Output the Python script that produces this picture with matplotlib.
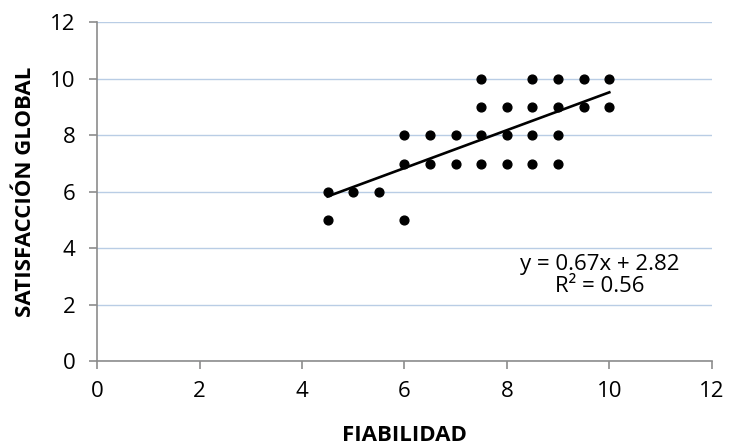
import numpy as np
import matplotlib.pyplot as plt

# datos: fiabilidad vs satisfacción global
fiabilidad = [4.5, 4.5, 5, 5.5,
              6, 6, 6, 6.5, 6.5, 7, 7,
              7.5, 7.5, 7.5, 7.5, 8, 8, 8,
              8.5, 8.5, 8.5, 8.5, 9, 9, 9, 9,
              9.5, 9.5, 10, 10]
satisfaccion = [6, 5, 6, 6,
                8, 7, 5, 8, 7, 8, 7,
                10, 9, 8, 7, 9, 8, 7,
                10, 9, 8, 7, 10, 9, 8, 7,
                10, 9, 10, 9]

# línea de tendencia (valores de la etiqueta)
pendiente = 0.67
intercepto = 2.82
r2 = 0.56

plt.rcParams['font.family'] = ['Open Sans', 'DejaVu Sans']

fig, ax = plt.subplots(figsize=(7.3, 4.45), dpi=100)
fig.subplots_adjust(left=0.133, right=0.975, top=0.95, bottom=0.188)

ax.scatter(fiabilidad, satisfaccion, s=40, color='black', zorder=3)

xt = np.array([min(fiabilidad), max(fiabilidad)])
ax.plot(xt, pendiente * xt + intercepto, color='black', lw=1.9, zorder=4)

ax.text(9.81, 3.04, f'y = {pendiente:.2f}x + {intercepto:.2f}\nR² = {r2:.2f}',
        ha='center', va='center', fontsize=16, linespacing=1.05)

ax.set_xlim(0, 12)
ax.set_ylim(0, 12)
ax.set_xticks(range(0, 13, 2))
ax.set_yticks(range(0, 13, 2))
ax.grid(axis='y', color='#b9cde5', lw=1)
ax.set_axisbelow(True)

for s in ['top', 'right']:
    ax.spines[s].set_visible(False)
for s in ['left', 'bottom']:
    ax.spines[s].set_color('#8c8c8c')
    ax.spines[s].set_linewidth(1.2)
ax.tick_params(colors='#8c8c8c', labelcolor='black', labelsize=16, length=5.5,
               width=1.2, direction='out')
ax.tick_params(axis='x', pad=9)
ax.tick_params(axis='y', pad=10)

ax.set_xlabel('FIABILIDAD', fontsize=16, fontweight='bold', va='center')
ax.set_ylabel('SATISFACCIÓN GLOBAL', fontsize=16, fontweight='bold', va='center')
ax.xaxis.set_label_coords(0.5, -0.22)
ax.yaxis.set_label_coords(-0.117, 0.5)

plt.savefig('out.png', dpi=100)
